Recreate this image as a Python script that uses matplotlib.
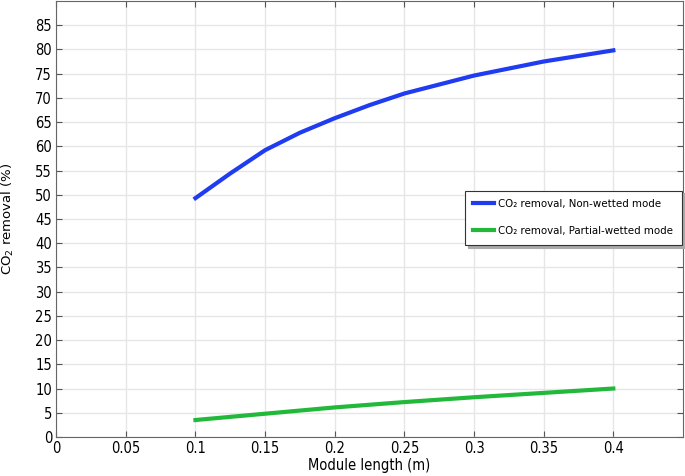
import matplotlib
matplotlib.use("Agg")
import matplotlib.pyplot as plt
from matplotlib import font_manager

# Module length (m)
length = [0.1, 0.125, 0.15, 0.175, 0.2, 0.225, 0.25, 0.3, 0.35, 0.4]
# CO2 removal (%), non-wetted mode
non_wetted = [49.3, 54.4, 59.2, 62.8, 65.8, 68.5, 70.9, 74.6, 77.5, 79.8]

length_pw = [0.1, 0.15, 0.2, 0.25, 0.3, 0.35, 0.4]
partial_wetted = [3.5, 4.8, 6.1, 7.2, 8.2, 9.1, 10.0]

xticks = [0, 0.05, 0.1, 0.15, 0.2, 0.25, 0.3, 0.35, 0.4]
yticks = list(range(0, 90, 5))

# condensed face for ticks / legend
narrow = font_manager.FontProperties(family="DejaVu Sans", stretch="condensed", size=10.5)
narrow_leg = font_manager.FontProperties(family="DejaVu Sans", stretch="condensed", size=8.2)

fig = plt.figure(figsize=(6.85, 4.76), dpi=100)
ax = fig.add_axes([0.082, 0.082, 0.915, 0.916])

ax.plot(length, non_wetted, color="#1f3cf0", lw=3,
        label="CO₂ removal, Non-wetted mode")
ax.plot(length_pw, partial_wetted, color="#22b83a", lw=3,
        label="CO₂ removal, Partial-wetted mode")

ax.set_xlim(0, 0.45)
ax.set_ylim(0, 90)
ax.set_xticks(xticks)
ax.set_xticklabels([f"{t:g}" for t in xticks], fontproperties=narrow)
ax.set_yticks(yticks)
ax.set_yticklabels([str(t) for t in yticks], fontproperties=narrow)
ax.tick_params(direction="in", top=True, right=True, length=4,
               color="#555555", pad=3)
ax.grid(True, color="#e6e6e6", lw=1)
ax.set_axisbelow(True)
for s in ax.spines.values():
    s.set_color("#666666")

ax.set_xlabel("Module length (m)", fontproperties=narrow, labelpad=1)
ax.set_ylabel("CO$_2$ removal (%)", fontsize=9.5)
ax.yaxis.set_label_coords(-0.064, 0.5)

leg = ax.legend(loc="upper left", bbox_to_anchor=(0.652, 0.565),
                prop=narrow_leg, fancybox=False, framealpha=1,
                edgecolor="#333333", shadow={"color": "#aaaaaa", "alpha": 1},
                handlelength=1.8, handletextpad=0.4, borderpad=0.75,
                labelspacing=1.5, borderaxespad=0)
leg.get_frame().set_linewidth(0.8)

fig.savefig("out.png", dpi=100)
